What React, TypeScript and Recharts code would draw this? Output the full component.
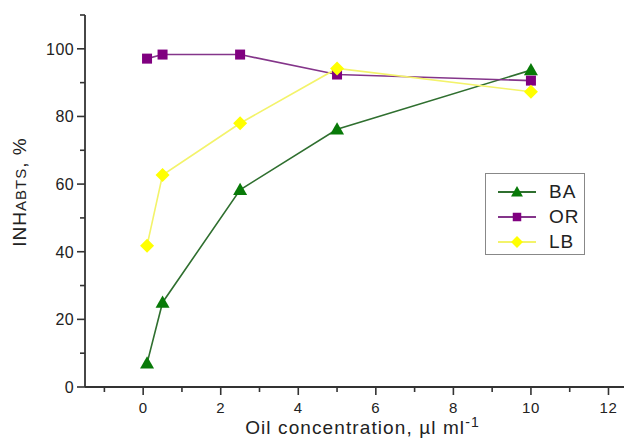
import React from "react";
import { LineChart, Line, XAxis, YAxis } from "recharts";

// Oil concentration, µl/ml
const concentrations = [0.1, 0.5, 2.5, 5, 10];
const baValues = [7, 25, 58.3, 76.2, 93.7];
const orValues = [97.1, 98.3, 98.3, 92.4, 90.6];
const lbValues = [41.8, 62.7, 78, 94.2, 87.3];

const xTicks = [-1, 0, 1, 2, 3, 4, 5, 6, 7, 8, 9, 10, 11, 12];
const yTicks = [0, 10, 20, 30, 40, 50, 60, 70, 80, 90, 100, 110];

const series = [
  { key: "BA", values: baValues, line: "#2f6f2f", fill: "#087a08", shape: "triangle" },
  { key: "OR", values: orValues, line: "#84358a", fill: "#800080", shape: "square" },
  { key: "LB", values: lbValues, line: "#f3f36a", fill: "#ffff00", shape: "diamond" },
];

const data = concentrations.map((c, i) => ({
  x: c,
  BA: baValues[i],
  OR: orValues[i],
  LB: lbValues[i],
}));

const FONT = "'Liberation Sans', Arial, sans-serif";
const AXIS = "#333";

function Marker({ cx, cy, shape, fill, size = 1 }: any) {
  if (cx == null || cy == null) return null;
  if (shape === "triangle") {
    const s = 7 * size;
    return <polygon points={`${cx},${cy - s} ${cx - s},${cy + s * 0.75} ${cx + s},${cy + s * 0.75}`} fill={fill} />;
  }
  if (shape === "square") {
    const s = 5 * size;
    return <rect x={cx - s} y={cy - s} width={s * 2} height={s * 2} fill={fill} />;
  }
  const s = 7 * size;
  return <polygon points={`${cx},${cy - s} ${cx + s},${cy} ${cx},${cy + s} ${cx - s},${cy}`} fill={fill} />;
}

function XTick({ x, y, payload }: any) {
  const major = payload.value % 2 === 0;
  return (
    <g>
      <line x1={x} y1={y} x2={x} y2={y + (major ? 8 : 5)} stroke={AXIS} strokeWidth={1.6} />
      {major && (
        <text x={x} y={y + 26} textAnchor="middle" fontSize={15} letterSpacing={0.6} fill="#222" fontFamily={FONT}>
          {payload.value}
        </text>
      )}
    </g>
  );
}

function YTick({ x, y, payload }: any) {
  const major = payload.value % 20 === 0;
  return (
    <g>
      <line x1={x} y1={y} x2={x - (major ? 8 : 5)} y2={y} stroke={AXIS} strokeWidth={1.6} />
      {major && (
        <text x={x - 11} y={y + 6} textAnchor="end" fontSize={16} letterSpacing={0.4} fill="#222" fontFamily={FONT}>
          {payload.value}
        </text>
      )}
    </g>
  );
}

function LegendBox() {
  return (
    <div
      style={{
        position: "absolute",
        left: 485,
        top: 173,
        border: "1px solid #888",
        width: 100,
        height: 82,
        boxSizing: "border-box",
        background: "#fff",
        paddingTop: 5,
      }}
    >
      {series.map((s) => (
        <div key={s.key} style={{ display: "flex", alignItems: "center", height: 25 }}>
          <svg width={60} height={20}>
            <line x1={12} y1={10} x2={50} y2={10} stroke={s.line} strokeWidth={2} />
            <Marker cx={31} cy={10} shape={s.shape} fill={s.fill} size={0.85} />
          </svg>
          <span style={{ fontFamily: FONT, fontSize: 19, letterSpacing: 1, color: "#222", marginLeft: 3 }}>{s.key}</span>
        </div>
      ))}
    </div>
  );
}

export default function App() {
  return (
    <div style={{ position: "absolute", left: 0, top: 0, width: 624, height: 439, background: "#fff" }}>
      <LineChart width={624} height={439} data={data} margin={{ top: 15, right: 0, left: 0, bottom: 0 }}>
        <XAxis
          dataKey="x"
          type="number"
          domain={[-1.5, 12.4]}
          ticks={xTicks}
          interval={0}
          tick={<XTick />}
          tickLine={false}
          tickSize={0}
          tickMargin={0}
          height={52}
          stroke={AXIS}
          strokeWidth={1.8}
          allowDataOverflow
          label={({ viewBox }: any) => (
            <text x={viewBox.x + viewBox.width / 2 + 8} y={434} textAnchor="middle" fontSize={19} letterSpacing={1.1} fill="#222" fontFamily={FONT}>
              Oil concentration, µl ml
              <tspan fontSize={14} dy={-7}>-1</tspan>
            </text>
          )}
        />
        <YAxis
          type="number"
          domain={[0, 110]}
          ticks={yTicks}
          interval={0}
          tick={<YTick />}
          tickLine={false}
          tickSize={0}
          tickMargin={0}
          width={85}
          stroke={AXIS}
          strokeWidth={1.8}
          label={() => (
            <text transform="translate(26,192) rotate(-90)" textAnchor="middle" fontSize={19} letterSpacing={1} fill="#222" fontFamily={FONT}>
              INH
              <tspan fontSize={15}>ABTS</tspan>
              <tspan fontSize={19}>, %</tspan>
            </text>
          )}
        />
        {series.map((s) => (
          <Line
            key={s.key}
            dataKey={s.key}
            name={s.key}
            stroke={s.line}
            strokeWidth={1.6}
            isAnimationActive={false}
            dot={(p: any) => <Marker key={`${s.key}-${p.index}`} cx={p.cx} cy={p.cy} shape={s.shape} fill={s.fill} />}
            activeDot={false}
          />
        ))}
      </LineChart>
      <LegendBox />
    </div>
  );
}
